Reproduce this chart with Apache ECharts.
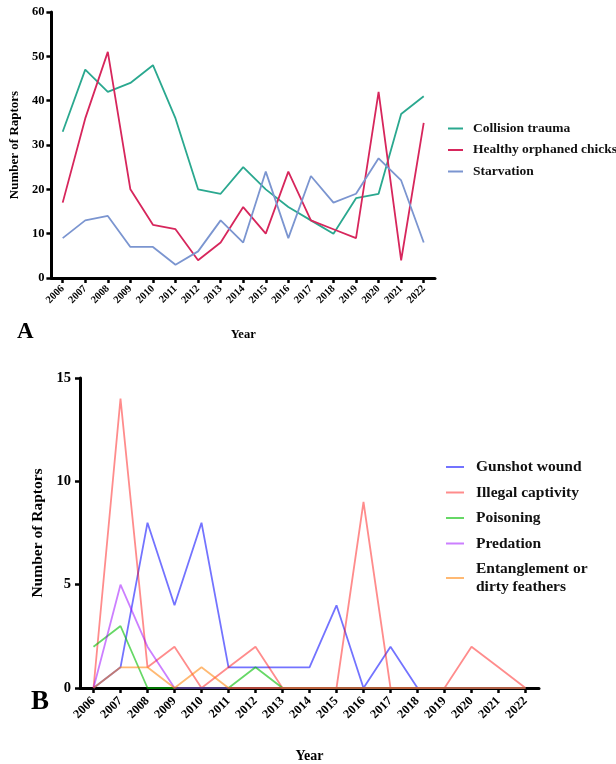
<!DOCTYPE html>
<html>
<head>
<meta charset="utf-8">
<script src="https://cdn.jsdelivr.net/npm/echarts@6/dist/echarts.min.js"></script>
<style>
  html, body { margin: 0; padding: 0; background: #fff; }
  #chart { width: 616px; height: 764px; }
</style>
</head>
<body>
<div id="chart"></div>
<script>
// Years shared by both panels
const years = ['2006','2007','2008','2009','2010','2011','2012','2013','2014','2015','2016','2017','2018','2019','2020','2021','2022'];

// Panel A: main admission causes
const collisionTrauma = [33, 47, 42, 44, 48, 36, 20, 19, 25, 20, 16, 13, 10, 18, 19, 37, 41];
const orphanedChicks  = [17, 36, 51, 20, 12, 11, 4, 8, 16, 10, 24, 13, 11, 9, 42, 4, 35];
const starvation      = [9, 13, 14, 7, 7, 3, 6, 13, 8, 24, 9, 23, 17, 19, 27, 22, 8];

// Panel B: minor admission causes
const gunshotWound     = [0, 1, 8, 4, 8, 1, 1, 1, 1, 4, 0, 2, 0, 0, 0, 0, 0];
const illegalCaptivity = [0, 14, 1, 2, 0, 1, 2, 0, 0, 0, 9, 0, 0, 0, 2, 1, 0];
const poisoning        = [2, 3, 0, 0, 0, 0, 1, 0, 0, 0, 0, 0, 0, 0, 0, 0, 0];
const predation        = [0, 5, 2, 0, 0, 0, 0, 0, 0, 0, 0, 0, 0, 0, 0, 0, 0];
const entanglement     = [0, 1, 1, 0, 1, 0, 0, 0, 0, 0, 0, 0, 0, 0, 0, 0, 0];

const FONT = '"Liberation Serif", "Times New Roman", serif';

const chart = echarts.init(document.getElementById('chart'), null, { renderer: 'canvas' });

function lineSeries(name, data, color, idx, width) {
  return {
    name: name, type: 'line', data: data,
    xAxisIndex: idx, yAxisIndex: idx,
    symbol: 'none', smooth: false,
    lineStyle: { color: color, width: width },
    itemStyle: { color: color },
    emphasis: { disabled: true },
    z: 3
  };
}

const axisLine = { show: true, lineStyle: { color: '#000', width: 3 } };
const axisTick = { show: true, length: 5, lineStyle: { color: '#000', width: 2.5 } };

chart.setOption({
  animation: false,
  backgroundColor: '#fff',
  textStyle: { fontFamily: FONT },
  title: [
    { text: 'A', left: 12, top: 316, textStyle: { fontFamily: FONT, fontWeight: 'bold', fontSize: 23, color: '#000' } },
    { text: 'B', left: 26, top: 684, textStyle: { fontFamily: FONT, fontWeight: 'bold', fontSize: 27, color: '#000' } }
  ],
  grid: [
    { left: 48, top: 12, width: 387, height: 266 },
    { left: 80, top: 378, width: 459, height: 315 }
  ],
  legend: [
    {
      data: ['Collision trauma', 'Healthy orphaned chicks', 'Starvation'],
      orient: 'vertical', left: 448, top: 121, padding: 0,
      icon: 'rect', itemWidth: 15, itemHeight: 2, itemGap: 6.5,
      textStyle: { fontFamily: FONT, fontWeight: 'bold', fontSize: 13.5, color: '#111', lineHeight: 15, padding: [0, 0, 0, 5] }
    },
    {
      data: ['Gunshot wound', 'Illegal captivity', 'Poisoning', 'Predation', 'Entanglement or\ndirty feathers'],
      orient: 'vertical', left: 446, top: 458, padding: 0,
      icon: 'rect', itemWidth: 18, itemHeight: 2, itemGap: 7.5,
      textStyle: { fontFamily: FONT, fontWeight: 'bold', fontSize: 15.5, color: '#111', lineHeight: 18, padding: [0, 0, 0, 7] }
    }
  ],
  xAxis: [
    {
      gridIndex: 0, type: 'category', data: years, boundaryGap: true,
      name: 'Year', nameLocation: 'middle', nameGap: 50,
      nameTextStyle: { fontFamily: FONT, fontWeight: 'bold', fontSize: 12.5, color: '#000' },
      axisLine: axisLine, axisTick: Object.assign({ alignWithLabel: true }, axisTick),
      axisLabel: { rotate: 45, margin: 9, interval: 0, fontFamily: FONT, fontWeight: 'bold', fontSize: 10.5, color: '#000' },
      splitLine: { show: false }
    },
    {
      gridIndex: 1, type: 'category', data: years, boundaryGap: true,
      name: 'Year', nameLocation: 'middle', nameGap: 61,
      nameTextStyle: { fontFamily: FONT, fontWeight: 'bold', fontSize: 14, color: '#000' },
      axisLine: axisLine, axisTick: Object.assign({ alignWithLabel: true }, axisTick),
      axisLabel: { rotate: 45, margin: 11, interval: 0, fontFamily: FONT, fontWeight: 'bold', fontSize: 12.5, color: '#000' },
      splitLine: { show: false }
    }
  ],
  yAxis: [
    {
      gridIndex: 0, type: 'value', min: 0, max: 60, interval: 10,
      name: 'Number of Raptors', nameLocation: 'middle', nameGap: 30,
      nameTextStyle: { fontFamily: FONT, fontWeight: 'bold', fontSize: 13, color: '#000' },
      axisLine: axisLine, axisTick: axisTick,
      axisLabel: { margin: 7, fontFamily: FONT, fontWeight: 'bold', fontSize: 12.5, color: '#000' },
      splitLine: { show: false }
    },
    {
      gridIndex: 1, type: 'value', min: 0, max: 15, interval: 5,
      name: 'Number of Raptors', nameLocation: 'middle', nameGap: 33,
      nameTextStyle: { fontFamily: FONT, fontWeight: 'bold', fontSize: 15.5, color: '#000' },
      axisLine: axisLine, axisTick: axisTick,
      axisLabel: { margin: 9, fontFamily: FONT, fontWeight: 'bold', fontSize: 14.5, color: '#000' },
      splitLine: { show: false }
    }
  ],
  series: [
    lineSeries('Collision trauma', collisionTrauma, '#2aa88f', 0, 1.8),
    lineSeries('Healthy orphaned chicks', orphanedChicks, '#d7265c', 0, 1.8),
    lineSeries('Starvation', starvation, '#7b95d0', 0, 1.8),
    lineSeries('Gunshot wound', gunshotWound, 'rgba(0,0,255,0.55)', 1, 1.8),
    lineSeries('Illegal captivity', illegalCaptivity, 'rgba(255,0,0,0.45)', 1, 1.8),
    lineSeries('Poisoning', poisoning, 'rgba(0,190,0,0.6)', 1, 1.8),
    lineSeries('Predation', predation, 'rgba(153,0,255,0.5)', 1, 1.8),
    lineSeries('Entanglement or\ndirty feathers', entanglement, 'rgba(255,128,0,0.55)', 1, 1.8)
  ]
});
</script>
</body>
</html>
